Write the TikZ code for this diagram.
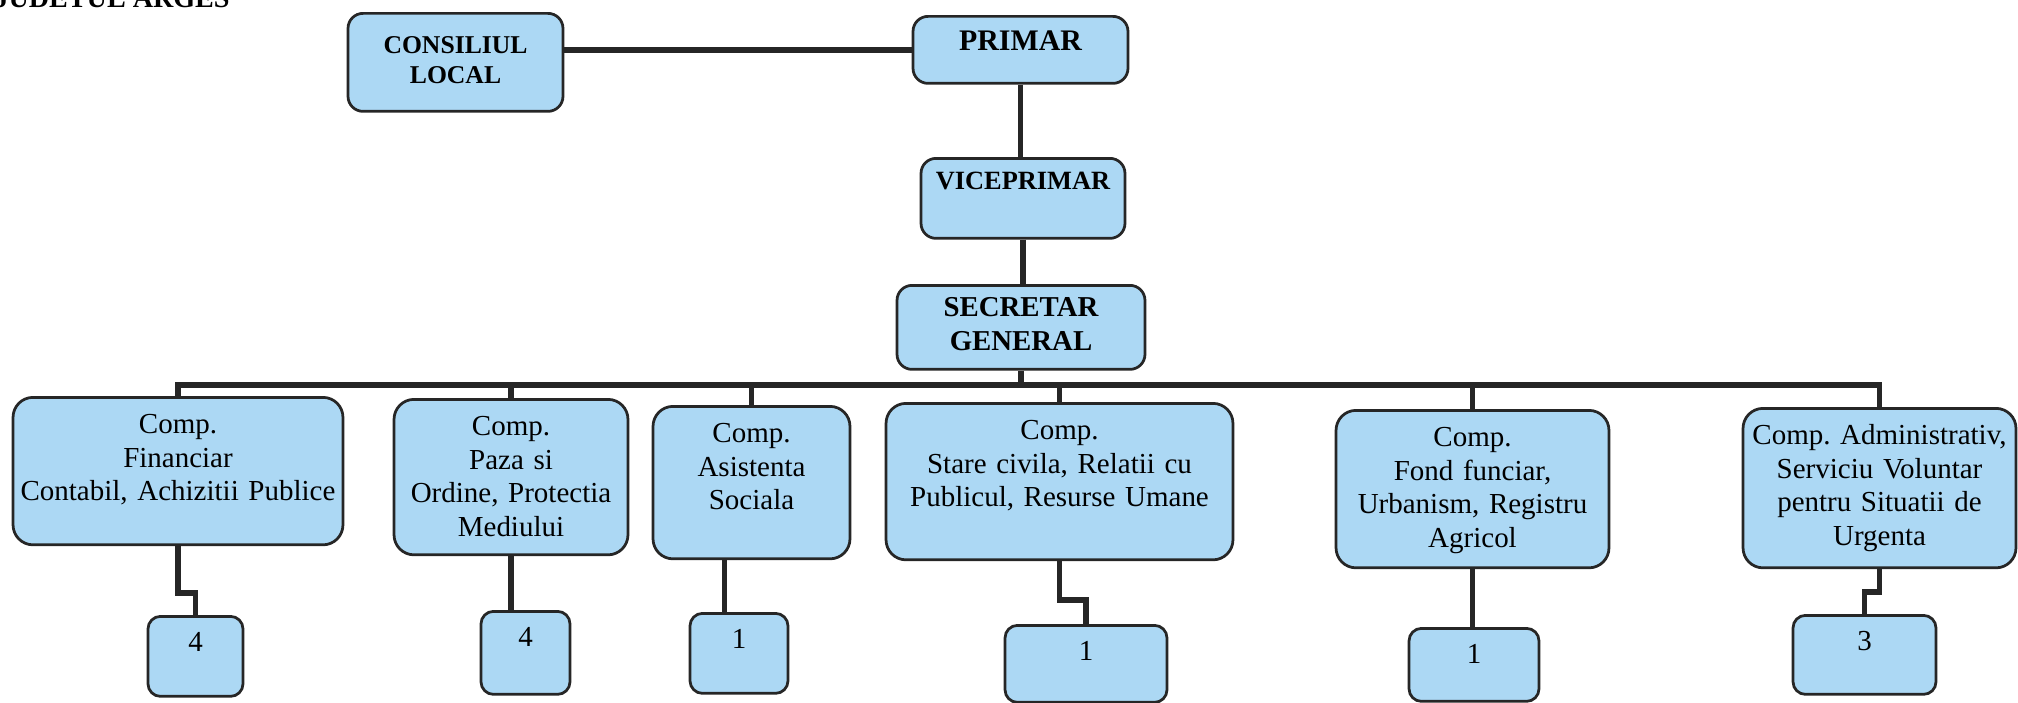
\documentclass[tikz,border=0pt]{standalone}
\usepackage{fontspec}
\setmainfont{Liberation Serif}
\frenchspacing
\definecolor{BoxFill}{RGB}{172,216,244}
\definecolor{LineClr}{RGB}{38,38,38}
\tikzset{
  post/.style={draw=LineClr,line width=0.055cm,fill=BoxFill,inner sep=0pt,
    align=center,anchor=north},
  head/.style={post,rounded corners=0.3cm,font=\bfseries\fontsize{14.6}{17}\selectfont},
  unit/.style={post,rounded corners=0.4cm,text height=0.73cm,
    font=\fontsize{16.5}{19}\selectfont},
  staff/.style={post,rounded corners=0.25cm,text height=0.70cm,
    font=\fontsize{16.5}{19}\selectfont},
  link/.style={draw=LineClr,line width=0.11cm}
}
\begin{document}
\begin{tikzpicture}[x=0.02cm,y=-0.02cm]
\useasboundingbox (0,0) rectangle (2018,703);

\node[anchor=base east,inner sep=0pt,font=\bfseries\fontsize{16}{19}\selectfont] (judet) at (230,8) {JUDETUL ARGES};

% conducere
\node[head,text width=4.30cm,text height=0.80cm,text depth=1.16cm] (cl) at (455.5,12) {CONSILIUL\\LOCAL};
\node[head,text width=4.30cm,text height=0.68cm,text depth=0.66cm,
  font=\bfseries\fontsize{17}{20}\selectfont] (pr) at (1020.5,15) {PRIMAR};
\node[head,text width=4.08cm,text height=0.62cm,text depth=0.98cm,
  font=\bfseries\fontsize{15}{18}\selectfont] (vp) at (1023,157) {VICEPRIMAR};
\node[head,text width=4.96cm,text height=0.62cm,text depth=1.06cm,
  font=\bfseries\fontsize{16.4}{19.5}\selectfont] (sg) at (1021,284) {SECRETAR\\GENERAL};

% compartimente
\node[unit,text width=6.60cm,text depth=2.22cm] (u1) at (178,396) {Comp.\\Financiar\\Contabil, Achizitii Publice};
\node[unit,text width=4.68cm,text depth=2.38cm] (u2) at (511,398) {Comp.\\Paza si\\Ordine, Protectia\\Mediului};
\node[unit,text width=3.94cm,text depth=2.32cm] (u3) at (751.5,405) {Comp.\\Asistenta\\Sociala};
\node[unit,text width=6.94cm,text depth=2.40cm] (u4) at (1059.5,402) {Comp.\\Stare civila, Relatii cu\\Publicul, Resurse Umane};
\node[unit,text width=5.46cm,text depth=2.42cm] (u5) at (1472.5,409) {Comp.\\Fond funciar,\\Urbanism, Registru\\Agricol};
\node[unit,text width=5.46cm,text depth=2.46cm] (u6) at (1879.5,407) {Comp. Administrativ,\\Serviciu Voluntar\\pentru Situatii de\\Urgenta};

% posturi
\node[staff,text width=1.90cm,text depth=0.90cm] (n1) at (195.5,615) {4};
\node[staff,text width=1.78cm,text depth=0.96cm] (n2) at (525.5,610) {4};
\node[staff,text width=1.96cm,text depth=0.90cm] (n3) at (739,612) {1};
\node[staff,text width=3.24cm,text depth=0.84cm] (n4) at (1086,624) {1};
\node[staff,text width=2.60cm,text depth=0.76cm] (n5) at (1474,627) {1};
\node[staff,text width=2.86cm,text depth=0.88cm] (n6) at (1864.5,614) {3};

% legaturi
\draw[link] (pr.west) -- (pr.west -| cl.east);
\draw[link] (pr.south) -- (pr.south |- vp.north);
\draw[link] (vp.south) -- (vp.south |- sg.north);
\coordinate (bus) at (0,385);
\draw[link] (sg.south) -- (sg.south |- bus);
\draw[link] (u1.north) -- (u1.north |- bus) -- (u6.north |- bus) -- (u6.north);
\foreach \u in {u2,u3,u4,u5}
  \draw[link] (\u.north) -- (\u.north |- bus);

\draw[link] (u1.south) -- ++(0,47) -| (n1.north);
\draw[link] (u2.south) -- (u2.south |- n2.north);
\draw[link] ([xshift=-0.54cm]u3.south) -- ([xshift=-0.54cm]u3.south |- n3.north);
\draw[link] (u4.south) -- ++(0,39) -| (n4.north);
\draw[link] (u5.south) -- (u5.south |- n5.north);
\draw[link] (u6.south) -- ++(0,23) -| (n6.north);

\end{tikzpicture}
\end{document}
